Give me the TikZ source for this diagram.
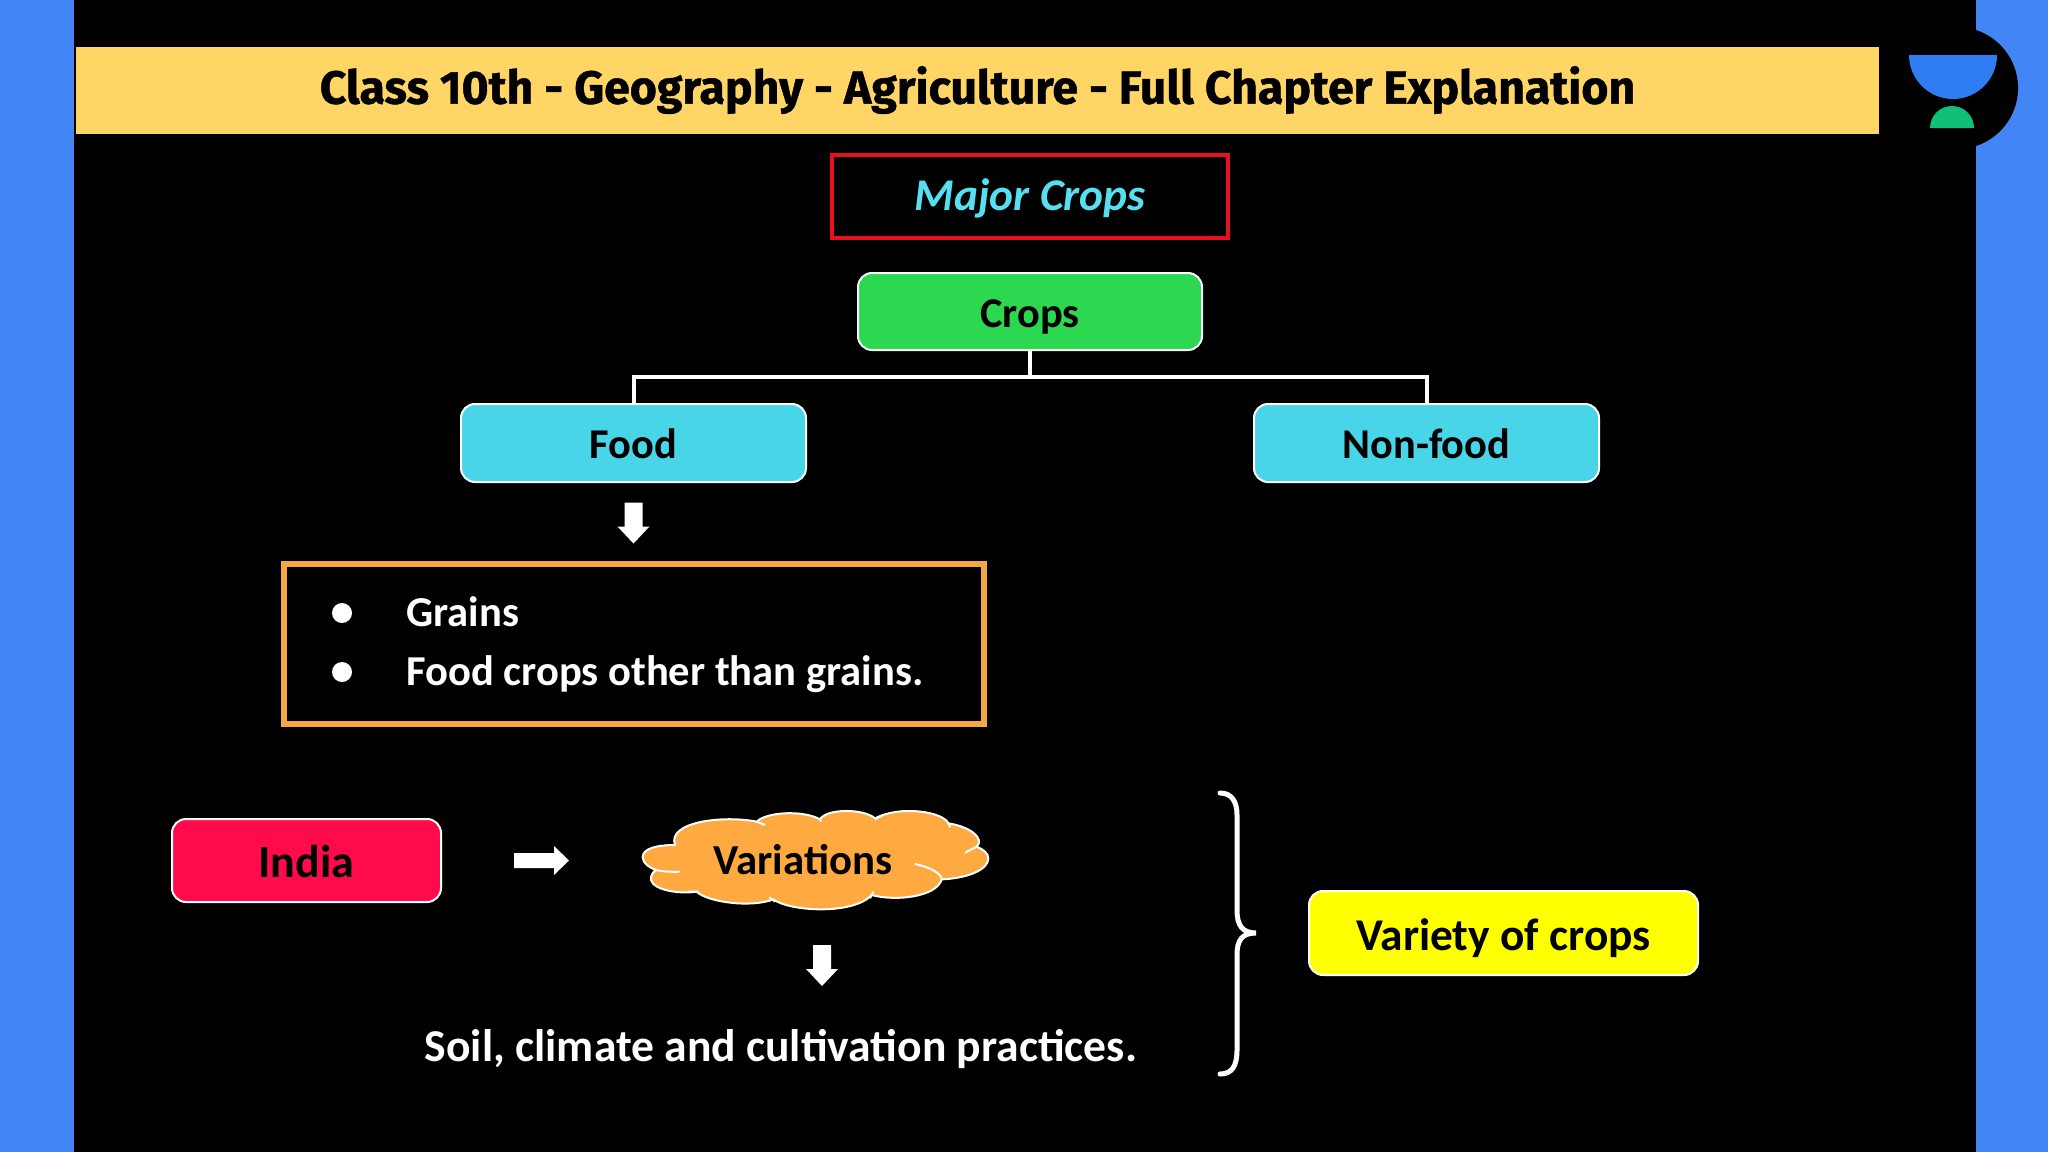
\documentclass[tikz,border=0pt]{standalone}
\usepackage{fontspec}
\setmainfont{Carlito}
\newfontfamily\titlefont[BoldFeatures={FakeBold=1}]{Fira Sans}
\definecolor{sideblue}{HTML}{4285F4}
\definecolor{bandyellow}{HTML}{FFD666}
\definecolor{cropgreen}{HTML}{2BD84F}
\definecolor{foodcyan}{HTML}{48D5E8}
\definecolor{cyantext}{HTML}{55E0F0}
\definecolor{boxorange}{HTML}{F5A742}
\definecolor{cloudorange}{HTML}{FFAA40}
\definecolor{indiared}{HTML}{FF0A4B}
\definecolor{logoblue}{HTML}{2F7DF2}
\definecolor{logogreen}{HTML}{12BF78}
\definecolor{framered}{HTML}{E8101E}
\definecolor{pureyellow}{HTML}{FFFF00}
\tikzset{
 pill/.style={draw=white,line width=1pt,rounded corners=7pt,inner sep=0pt,text=black,font=\fontsize{21.2}{24}\selectfont\bfseries,text height=20pt,text depth=4.5pt},
 bigpill/.style={pill,font=\fontsize{23}{28}\selectfont\bfseries,text height=21pt,text depth=4pt},
 link/.style={draw=white,line width=2pt},
 bodytext/.style={text=white,font=\fontsize{21.3}{24}\selectfont\bfseries,inner sep=0pt},
 bulletdot/.style={circle,fill=white,inner sep=0pt,minimum size=10pt}
}
\newcommand{\blockdown}[1]{\fill[white,shift={(#1)}] (-9,-20.5) -- (9,-20.5) -- (9,3.5) -- (16,3.5) -- (0,20.5) -- (-16,3.5) -- (-9,3.5) -- cycle;}
\newcommand{\blockright}[1]{\fill[white,shift={(#1)}] (-27.5,-7.5) -- (12.5,-7.5) -- (12.5,-14.5) -- (27.5,0) -- (12.5,14.5) -- (12.5,7.5) -- (-27.5,7.5) -- cycle;}
\begin{document}
\begin{tikzpicture}[x=0.5pt,y=-0.5pt]
\useasboundingbox (0,0) rectangle (2048,1152);
\fill[black] (0,0) rectangle (2048,1152);
\fill[sideblue] (0,0) rectangle (74,1152);
\fill[sideblue] (1976,0) rectangle (2048,1152);
\fill[black] (1957,88) circle (30.5pt);
\fill[logoblue] (1909,55) arc[start angle=180,end angle=360,radius=22pt] -- cycle;
\fill[logogreen] (1930,128) arc[start angle=180,end angle=0,radius=11pt] -- cycle;
\node[fill=bandyellow,minimum width=901.5pt,minimum height=43.5pt,inner sep=0pt,text=black,font=\titlefont\fontsize{23.2}{28}\selectfont\bfseries] (title) at (977.5,90) {Class 10th - Geography - Agriculture - Full Chapter Explanation};
\node[draw=framered,line width=2pt,minimum width=198pt,minimum height=41.5pt,inner sep=0pt,text=cyantext,font=\fontsize{22.7}{26}\selectfont\bfseries\itshape,text height=18.3pt,text depth=4pt] (major) at (1030,196) {Major Crops};
\node[pill,fill=cropgreen,minimum width=172pt,minimum height=38.5pt] (crops) at (1030,311.5) {Crops};
\node[pill,fill=foodcyan,minimum width=172.5pt,minimum height=39pt] (food) at (633.5,443) {Food};
\node[pill,fill=foodcyan,minimum width=172.5pt,minimum height=39pt] (nonfood) at (1426.5,443) {Non-food};
\coordinate (split) at (1030,376.5);
\draw[link] (crops.south) -- (split);
\draw[link] (food.north) |- (split);
\draw[link] (nonfood.north) |- (split);
\blockdown{633.5,523}
\node[draw=boxorange,line width=3pt,minimum width=350pt,minimum height=80pt,inner sep=0pt] (list) at (633.5,644) {};
\node[bulletdot] (b1) at (342,613) {};
\node[bulletdot] (b2) at (342,672) {};
\node[bodytext,anchor=base west] (t1) at (406,626) {Grains};
\node[bodytext,anchor=base west] (t2) at (406,685) {Food crops other than grains.};
\node[bigpill,fill=indiared,minimum width=134.5pt,minimum height=41.5pt] (india) at (306.5,860.5) {India};
\blockright{541.5,860.5}
\begin{scope}[shift={(600,780)},x=0.16667pt,y=-0.16667pt]
\draw[fill=cloudorange,draw=white,line width=1pt,line join=round]
 (225,195) .. controls (170,195) and (128,205) .. (128,232)
 .. controls (128,250) and (150,265) .. (170,270)
 .. controls (150,280) and (148,300) .. (160,312)
 .. controls (180,332) and (240,342) .. (290,335)
 .. controls (320,365) and (450,385) .. (520,358)
 .. controls (570,395) and (760,405) .. (815,345)
 .. controls (890,365) and (1010,350) .. (1025,298)
 .. controls (1100,295) and (1165,270) .. (1165,235)
 .. controls (1165,220) and (1150,208) .. (1130,200)
 .. controls (1155,175) and (1110,140) .. (1045,130)
 .. controls (1030,95) and (900,75) .. (825,115)
 .. controls (790,85) and (680,85) .. (660,118)
 .. controls (610,90) and (500,95) .. (470,125)
 .. controls (370,105) and (200,125) .. (225,195) -- cycle;
\draw[white,line width=1pt]
 (160,268) .. controls (185,275) and (215,276) .. (240,275)
 (265,335) -- (295,335)
 (470,125) -- (495,135)
 (508,352) -- (525,365)
 (660,118) -- (663,125)
 (825,118) -- (850,105)
 (1045,130) -- (1050,142)
 (1095,218) -- (1130,200)
 (945,252) .. controls (990,262) and (1025,280) .. (1025,298)
 (810,355) -- (820,335);
\end{scope}
\node[inner sep=0pt,text=black,font=\fontsize{21.4}{24}\selectfont\bfseries] (var) at (803,860) {Variations};
\blockdown{822,965.5}
\node[bodytext,font=\fontsize{22.8}{26}\selectfont\bfseries] (soil) at (781,1049) {Soil, climate and cultivation practices.};
\draw[white,line width=2.5pt,line cap=round] (1220,793) .. controls (1232,793) and (1237,802) .. (1237,815) -- (1237,910) .. controls (1237,925) and (1242,933) .. (1256,933) .. controls (1242,933) and (1237,940) .. (1237,955) -- (1237,1050) .. controls (1237,1066) and (1232,1074) .. (1220,1074);
\node[bigpill,fill=pureyellow,minimum width=194.5pt,minimum height=42pt,font=\fontsize{22.7}{26}\selectfont\bfseries] (variety) at (1503.5,933) {Variety of crops};
\end{tikzpicture}
\end{document}
